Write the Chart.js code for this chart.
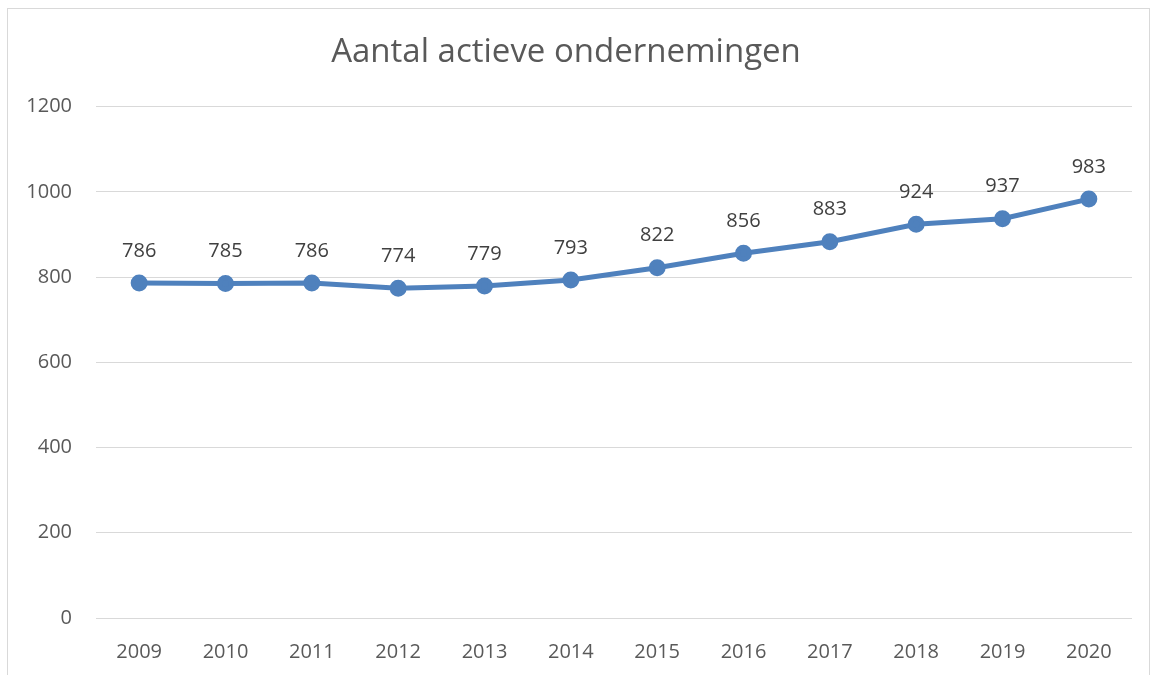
<!DOCTYPE html>
<html>
<head>
<meta charset="utf-8">
<script src="https://cdn.jsdelivr.net/npm/chart.js@4"></script>
<style>
  html, body { margin: 0; padding: 0; background: #fff; }
  #wrap { width: 1153px; height: 675px; }
</style>
</head>
<body>
<div id="wrap"><canvas id="chart" width="1153" height="675"></canvas></div>
<script>
// data
const years = ['2009', '2010', '2011', '2012', '2013', '2014', '2015', '2016', '2017', '2018', '2019', '2020'];
const companies = [786, 785, 786, 774, 779, 793, 822, 856, 883, 924, 937, 983];
const yTicks = [0, 200, 400, 600, 800, 1000, 1200];

const FONT = '"Open Sans", "Noto Sans", sans-serif';

// outer frame like the office chart box
const framePlugin = {
  id: 'frame',
  beforeDraw(chart) {
    const ctx = chart.ctx;
    ctx.save();
    ctx.fillStyle = '#fff';
    ctx.fillRect(0, 0, chart.width, chart.height);
    ctx.strokeStyle = '#d9d9d9';
    ctx.lineWidth = 1;
    ctx.strokeRect(7.5, 8.5, 1142, 700);
    ctx.restore();
  }
};

// value labels above each point
const labelPlugin = {
  id: 'valueLabels',
  afterDatasetsDraw(chart) {
    const ctx = chart.ctx;
    const meta = chart.getDatasetMeta(0);
    ctx.save();
    ctx.font = '20px ' + FONT;
    ctx.fillStyle = '#404040';
    ctx.textAlign = 'center';
    ctx.textBaseline = 'middle';
    meta.data.forEach((pt, i) => {
      ctx.fillText(companies[i], pt.x, pt.y - 32);
    });
    ctx.restore();
  }
};

new Chart(document.getElementById('chart'), {
  type: 'line',
  data: {
    labels: years,
    datasets: [{
      data: companies,
      borderColor: '#4f81bd',
      backgroundColor: '#4f81bd',
      borderWidth: 5,
      pointRadius: 6,
      pointHoverRadius: 6,
      tension: 0
    }]
  },
  options: {
    responsive: false,
    animation: false,
    layout: { padding: { left: 0, right: 21, top: 0, bottom: 0 } },
    plugins: {
      legend: { display: false },
      tooltip: { enabled: false },
      title: {
        display: true,
        text: 'Aantal actieve ondernemingen',
        color: '#595959',
        font: { family: FONT, size: 33, weight: 'normal', lineHeight: 1.2 },
        padding: { top: 33, bottom: 34 }
      }
    },
    scales: {
      x: {
        offset: true,
        grid: { display: false },
        border: { display: false },
        ticks: { color: '#595959', font: { family: FONT, size: 20 }, padding: 14 },
        afterFit(axis) { axis.height = 57; }
      },
      y: {
        min: 0,
        max: 1200,
        afterBuildTicks(axis) { axis.ticks = yTicks.map(v => ({ value: v })); },
        grid: { color: '#d9d9d9', lineWidth: 1, drawTicks: false },
        border: { display: false },
        ticks: {
          color: '#595959',
          font: { family: FONT, size: 20 },
          padding: 24,
          callback: v => String(v)
        },
        afterFit(axis) { axis.width = 96; }
      }
    }
  },
  plugins: [framePlugin, labelPlugin]
});
</script>
</body>
</html>
